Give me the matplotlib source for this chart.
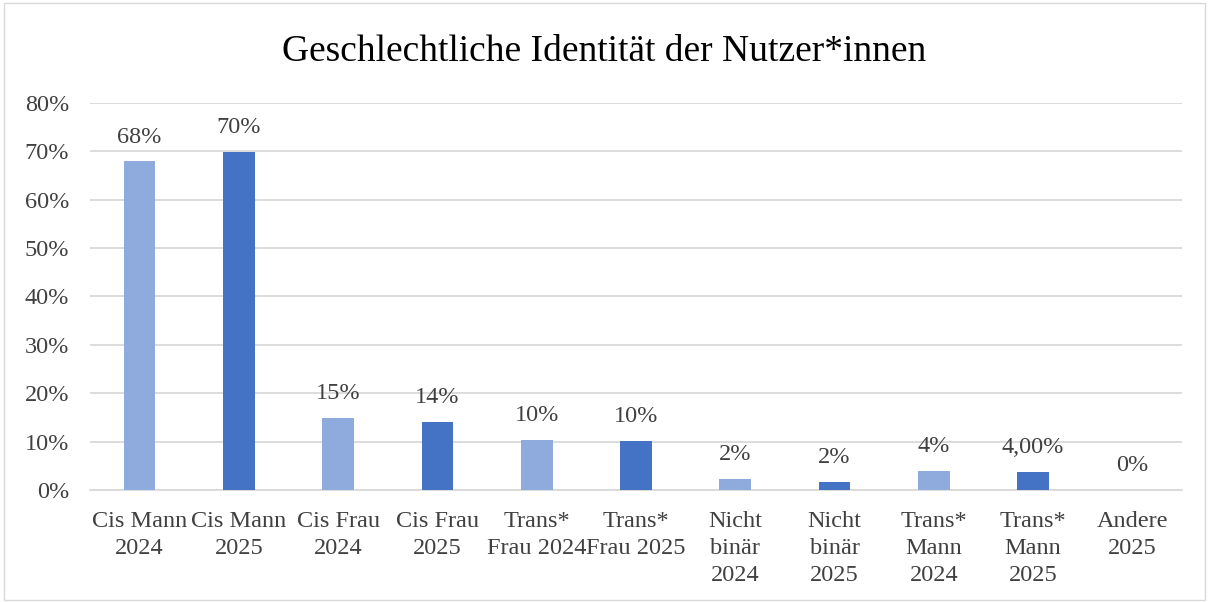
import matplotlib.pyplot as plt
from matplotlib.patches import Rectangle
from matplotlib.ticker import PercentFormatter

# data
categories = ["Cis Mann\n2024", "Cis Mann\n2025", "Cis Frau\n2024", "Cis Frau\n2025",
              "Trans*\nFrau 2024", "Trans*\nFrau 2025", "Nicht\nbinär\n2024", "Nicht\nbinär\n2025",
              "Trans*\nMann\n2024", "Trans*\nMann\n2025", "Andere\n2025"]
values = [0.679, 0.698, 0.149, 0.141, 0.104, 0.101, 0.023, 0.017, 0.039, 0.038, 0.0]
value_labels = ["68%", "70%", "15%", "14%", "10%", "10%", "2%", "2%", "4%", "4,00%", "0%"]
years = [2024, 2025, 2024, 2025, 2024, 2025, 2024, 2025, 2024, 2025, 2025]

light = "#8FAADC"
dark = "#4472C4"
text_col = "#404040"
grid_col = "#D9D9D9"

plt.rcParams["font.family"] = ["Liberation Serif", "DejaVu Serif"]

fig = plt.figure(figsize=(12.09, 6.02), dpi=100)
ax = fig.add_axes([0.0744, 0.186, 0.9033, 0.643])

x = list(range(len(categories)))
colors = [light if y == 2024 else dark for y in years]
ax.bar(x, values, width=0.32, color=colors, zorder=3)

for xi, v, lab in zip(x, values, value_labels):
    ax.annotate(lab, (xi, v), xytext=(0, 10), textcoords="offset points",
                ha="center", va="bottom", fontsize=17.5, color=text_col)

ax.set_xlim(-0.5, len(categories) - 0.5)
ax.set_ylim(0, 0.8)
ax.set_yticks([i / 10 for i in range(9)])
ax.yaxis.set_major_formatter(PercentFormatter(1.0, decimals=0))
ax.set_xticks(x)
ax.set_xticklabels(categories, linespacing=1.38)
ax.tick_params(axis="both", length=0, labelsize=17.5, labelcolor=text_col)
ax.tick_params(axis="x", pad=15)
ax.tick_params(axis="y", pad=15)
ax.grid(axis="y", color=grid_col, linewidth=1.3, zorder=0)
for s in ["top", "right", "left"]:
    ax.spines[s].set_visible(False)
ax.spines["bottom"].set_color(grid_col)
ax.spines["bottom"].set_linewidth(1.3)

fig.text(0.5, 0.914, "Geschlechtliche Identität der Nutzer*innen",
         ha="center", va="center", fontsize=27, color="black")

fig.patches.append(Rectangle((0.003, 0.003), 0.994, 0.992, transform=fig.transFigure,
                             fill=False, edgecolor=grid_col, linewidth=1))

fig.savefig("out.png", dpi=100)
